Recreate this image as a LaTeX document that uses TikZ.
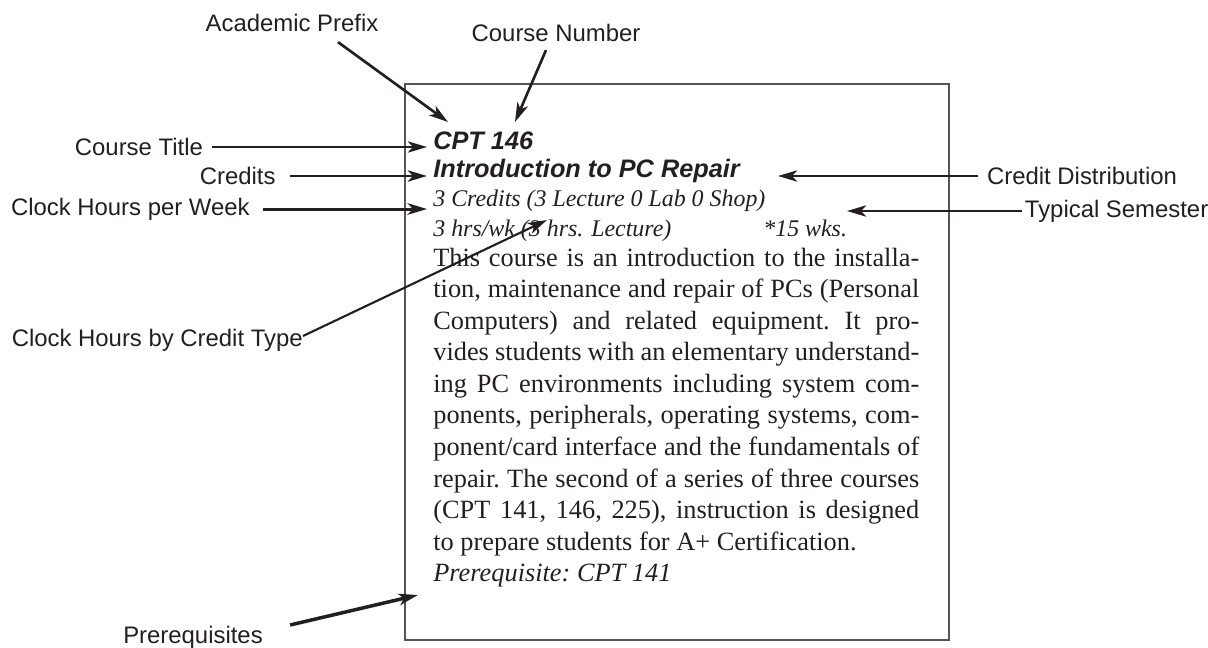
\documentclass[tikz,border=0pt]{standalone}
\usepackage{fontspec}
\setmainfont{Liberation Serif}
\newfontfamily\lblfont{Liberation Sans}
\usetikzlibrary{arrows.meta}
\definecolor{ink}{HTML}{231F20}
\definecolor{frame}{HTML}{555555}

\begin{document}
\begin{tikzpicture}[x=0.02cm,y=-0.02cm,
  lbl/.style={font=\lblfont\fontsize{13.6}{16}\selectfont,text=ink,inner sep=0pt},
  lead/.style={draw=ink,line width=1.1pt,-{Stealth[length=11pt,width=6.5pt,inset=3pt]}},
  heavy/.style={lead,line width=1.7pt},
  head/.style={font=\lblfont\bfseries\itshape\fontsize{14.4}{17}\selectfont,text=ink,inner sep=0pt,anchor=base west},
  info/.style={font=\itshape\fontsize{13.6}{16}\selectfont,text=ink,inner sep=0pt,anchor=base west}]
\useasboundingbox (0,0) rectangle (1208,647);
% the course card
\draw[frame,line width=0.7pt] (405,84) rectangle (949,640);
\node[head] (code) at (433,149) {CPT 146};
\node[head] (title) at (433,177) {Introduction to PC Repair};
\node[info] (credits) at (433,206) {3 Credits (3 Lecture 0 Lab 0 Shop)};
\node[info] (hours) at (433,236) {3 hrs/wk (3 hrs. Lecture)};
\node[info] (wks) at (763,236) {*15 wks.};
\node[anchor=base west,text width=276.6pt,align=justify,inner sep=0pt,text=ink,
  font=\fontsize{15}{17.97}\selectfont] (desc) at (433,266)
  {\frenchspacing This course is an introduction to the installa-\linebreak
  tion, maintenance and repair of PCs (Personal\linebreak
  Computers) and related equipment. It pro-\linebreak
  vides students with an elementary understand-\linebreak
  ing PC environments including system com-\linebreak
  ponents, peripherals, operating systems, com-\linebreak
  ponent/card interface and the fundamentals of\linebreak
  repair. The second of a series of three courses\linebreak
  (CPT 141, 146, 225), instruction is designed\linebreak
  to prepare students for A+ Certification.\par
  \textit{Prerequisite: CPT 141}};
% labels
\node[lbl] (pfx) at (292,23) {Academic Prefix};
\node[lbl] (num) at (556,33) {Course Number};
\node[lbl,anchor=east,inner xsep=5pt] (ttl) at (212,147) {Course Title};
\node[lbl,anchor=east,inner xsep=8pt] (cred) at (290,176) {Credits};
\node[lbl,anchor=east,inner xsep=7.4pt] (cpw) at (263,209) {Clock Hours per Week};
\node[lbl,anchor=east] (chc) at (303,340) {Clock Hours by Credit Type};
\node[lbl] (pre) at (193,637) {Prerequisites};
\node[lbl,anchor=west,inner xsep=5pt] (cdist) at (978,176) {Credit Distribution};
\node[lbl,anchor=west,inner xsep=1.5pt] (sem) at (1022,211) {Typical Semester};
% arrow tips
\coordinate (pfxtip) at (448,122);
\coordinate (numtip) at (515,122);
\coordinate (lefttip) at (427,0);
\coordinate (cdtip) at (778,0);
\coordinate (semtip) at (847,0);
\coordinate (chctip) at (547,220);
\coordinate (pretip) at (418,595);
\draw[lead,line width=1.5pt] (pfx.south) ++(46,10) -- (pfxtip);
\draw[lead,line width=1.5pt] (num.south) ++(-10,8) -- (numtip);
\draw[lead,line width=0.9pt] (ttl.east) -- (ttl.east -| lefttip);
\draw[lead,line width=1.3pt] (cred.east) -- (cred.east -| lefttip);
\draw[heavy] (cpw.east) -- (cpw.east -| lefttip);
\draw[lead] (cdist.west) -- (cdist.west -| cdtip);
\draw[lead] (sem.west) -- (sem.west -| semtip);
\draw[lead,line width=1.2pt] (chc.east) ++(0,-4) -- (chctip);
\draw[heavy,line width=2pt] (pre.east) ++(27,-12) -- (pretip);
\end{tikzpicture}
\end{document}
